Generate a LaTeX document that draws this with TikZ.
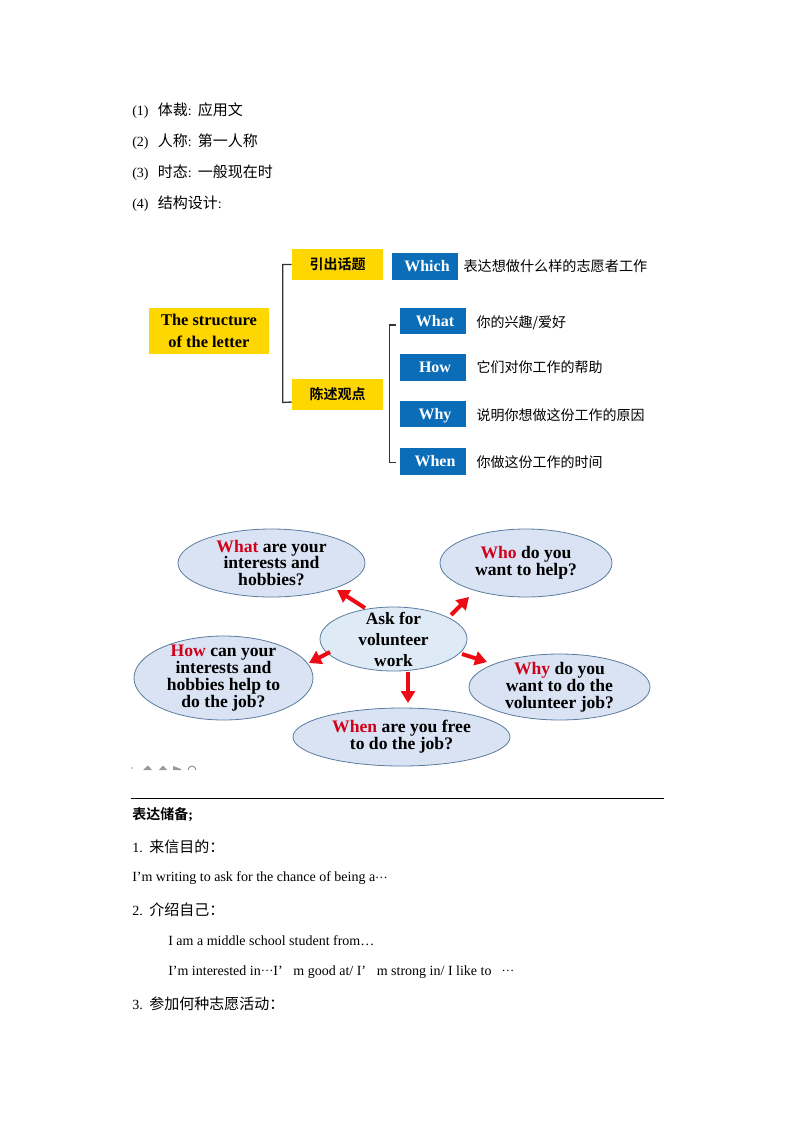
\documentclass[tikz,border=0pt]{standalone}
\usepackage{fontspec}
\setmainfont{Liberation Serif}
\newfontfamily\zh{Noto Sans CJK SC}[BoldFont={* Bold}]
\newcommand{\zhbig}{\zh\fontsize{11.25pt}{13pt}\selectfont}
\newcommand{\middots}{{\fontsize{9.5pt}{10pt}\selectfont\raisebox{2.6pt}{…}}}
\usetikzlibrary{arrows.meta,calc,positioning,shapes.geometric}

\definecolor{boxyellow}{HTML}{FFD700}
\definecolor{boxblue}{HTML}{0B6CB8}
\definecolor{bubblefill}{HTML}{DAE3F3}
\definecolor{hubfill}{HTML}{DEEBF7}
\definecolor{bubbleline}{HTML}{5B7C9E}
\definecolor{wordred}{HTML}{D0021B}
\definecolor{arrowred}{HTML}{EE0A14}

\tikzset{
	bodytext/.style={anchor=west,inner sep=0pt,font=\fontsize{10.5pt}{12pt}\selectfont},
	yellowbox/.style={fill=boxyellow,inner sep=0pt,align=center,font=\fontsize{12.3pt}{17pt}\selectfont\bfseries},
	bluebox/.style={fill=boxblue,text=white,inner sep=0pt,minimum width=49.5pt,minimum height=20pt,text height=8pt,text depth=0pt,execute at begin node=\hspace{3pt},font=\fontsize{12pt}{14pt}\selectfont\bfseries},
	bubble/.style={ellipse,draw=bubbleline,line width=0.6pt,fill=bubblefill,inner sep=-12pt,align=center,font=\fontsize{13.2pt}{12.7pt}\selectfont\bfseries},
	bracket/.style={draw=black!80,line width=1pt},
	bigarrow/.style={draw=arrowred,line width=3pt,-{Triangle[width=10.5pt,length=9pt]}},
	icon/.style={fill=black!40,draw=none}
}
\newcommand{\redword}[1]{\textcolor{wordred}{#1}}

\begin{document}
\begin{tikzpicture}[x=0.75pt,y=-0.75pt]
	\useasboundingbox (0,0) rectangle (794,1123);
	% top list
	\node[bodytext] (item_1) at (132,111) {(1)\hspace{7pt}{\zhbig 体裁}:\hspace{4.5pt}{\zhbig 应用文}};
	\node[bodytext] (item_2) at (132,142) {(2)\hspace{7pt}{\zhbig 人称}:\hspace{4.5pt}{\zhbig 第一人称}};
	\node[bodytext] (item_3) at (132,173) {(3)\hspace{7pt}{\zhbig 时态}:\hspace{4.5pt}{\zhbig 一般现在时}};
	\node[bodytext] (item_4) at (132,204) {(4)\hspace{7pt}{\zhbig 结构设计}:};

	% structure of the letter
	\node[yellowbox,minimum width=90pt,minimum height=34.5pt] (letter) at (209,331) {The structure\\of the letter};
	\node[yellowbox,minimum width=68.25pt,minimum height=23.25pt] (topic) at (337.5,264.5) {\zh\fontsize{10.5pt}{12pt}\selectfont 引出话题};
	\node[yellowbox,minimum width=68.25pt,minimum height=23.25pt] (views) at (337.5,394.5) {\zh\fontsize{10.5pt}{12pt}\selectfont 陈述观点};
	\node[bluebox] (which) at (425,266.5) {Which};
	\node[bluebox] (what) at (433,321) {What};
	\node[bluebox] (how) at (433,367.5) {How};
	\node[bluebox] (why) at (433,414) {Why};
	\node[bluebox] (when) at (433,461.5) {When};
	\node[bodytext,right=3.75pt of which,font=\fontsize{10.6pt}{12pt}\selectfont] (which_note) {\zh 表达想做什么样的志愿者工作};
	\node[bodytext,right=7.5pt of what,yshift=-1.2pt] (what_note) {\zh 你的兴趣/爱好};
	\node[bodytext,right=7.5pt of how] (how_note) {\zh 它们对你工作的帮助};
	\node[bodytext,right=7.5pt of why,yshift=-1pt] (why_note) {\zh 说明你想做这份工作的原因};
	\node[bodytext,right=7.5pt of when,yshift=-0.5pt] (when_note) {\zh 你做这份工作的时间};
	\draw[bracket] (topic.west) -- ++(-9,0) -- ++(0,138) -- ($(views.west)+(0,7.5)$);
	\draw[bracket] ($(what.west)+(-4,4)$) -- ++(-6,0) -- ++(0,137.5) -- ++(6,0);

	% questions
	\node[bubble,fill=hubfill,minimum width=110.25pt,minimum height=48pt,font=\fontsize{13pt}{15.75pt}\selectfont\bfseries] (hub) at (393.5,639) {Ask for\\volunteer\\work};
	\node[bubble,minimum width=140.25pt,minimum height=51pt] (whatq) at (271.5,563) {\redword{What} are your\\interests and\\hobbies?};
	\node[bubble,minimum width=129pt,minimum height=51pt] (whoq) at (526,563) {\redword{Who} do you\\want to help?};
	\node[bubble,minimum width=134.25pt,minimum height=63pt] (howq) at (223.5,678) {\redword{How} can your\\interests and\\hobbies help to\\do the job?};
	\node[bubble,minimum width=135.75pt,minimum height=49.5pt] (whyq) at (559.5,687) {\redword{Why} do you\\want to do the\\volunteer job?};
	\node[bubble,minimum width=162.75pt,minimum height=43.5pt] (whenq) at (401.5,737) {\redword{When} are you free\\to do the job?};
	\draw[bigarrow] ($(hub)+(-28.5,-31)$) -- ($(whatq)+(65.5,27)$);
	\draw[bigarrow] ($(hub)+(57.5,-24)$) -- ($(whoq)+(-57,34)$);
	\draw[bigarrow] ($(hub)+(-63.5,13)$) -- ($(howq)+(85.5,-15)$);
	\draw[bigarrow] ($(hub)+(68.5,15)$) -- ($(whyq)+(-72.5,-25)$);
	\draw[bigarrow] ($(hub)+(14.5,33)$) -- ($(whenq)+(6.5,-34)$);

	% cut off icons
	\fill[icon] (132,768) circle (0.8);
	\fill[icon] (143,770) -- (148,765.5) -- (152,770) -- cycle;
	\fill[icon] (159,770) -- (163,765.5) -- (167,770) -- cycle;
	\fill[icon] (173,766) -- (181,769) -- (181,770) -- (173,770) -- cycle;
	\draw[black!40,line width=0.8pt] (188,770) arc[start angle=180,end angle=360,radius=4];

	% phrases
	\coordinate (rule_l) at (131,798);
	\coordinate (rule_r) at (664,798);
	\draw[line width=0.75pt] (rule_l) -- (rule_r);
	\node[bodytext,font=\fontsize{10.5pt}{12pt}\selectfont\bfseries] (head) at (132,815) {{\zh 表达储备};};
	\node[bodytext] (line_1) at (132,847) {1.\hspace{5pt}{\zhbig 来信目的：}};
	\node[bodytext] (line_2) at (132,878.5) {I’m writing to ask for the chance of being a\middots};
	\node[bodytext] (line_3) at (132,910) {2.\hspace{5pt}{\zhbig 介绍自己：}};
	\node[bodytext] (line_4) at (168,941) {I am a middle school student from…};
	\node[bodytext] (line_5) at (168,972) {I’m interested in\middots I’\hspace{8pt}m good at/ I’\hspace{8pt}m strong in/ I like to \hspace{5pt}\middots};
	\node[bodytext] (line_6) at (132,1004) {3.\hspace{5pt}{\zhbig 参加何种志愿活动：}};
\end{tikzpicture}
\end{document}
